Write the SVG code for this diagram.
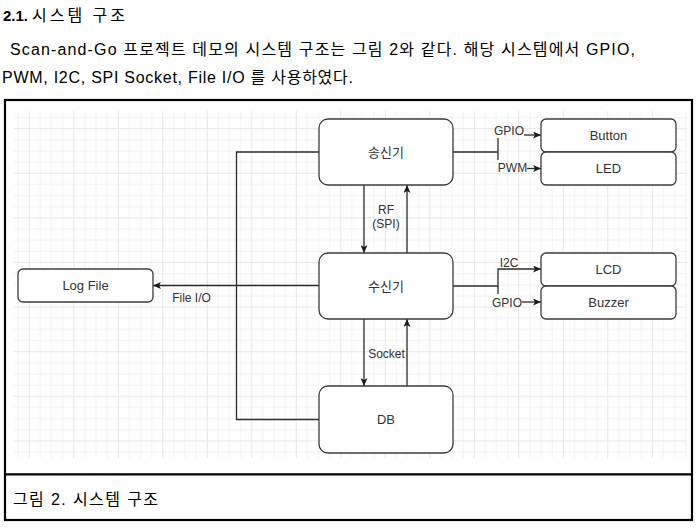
<svg xmlns="http://www.w3.org/2000/svg" width="698" height="530" viewBox="0 0 698 530">
<style>
.hdr{font-family:'Liberation Sans','Noto Sans CJK KR',sans-serif;fill:#000}
.node rect{fill:#fff;stroke:#3c3c3c;stroke-width:1.3}
.node text{font-family:'Liberation Sans','Noto Sans CJK KR',sans-serif;font-size:13px;fill:#333;text-anchor:middle;dominant-baseline:central}
.edge{fill:none;stroke:#2b2b2b;stroke-width:1.3}
.lbl{font-family:'Liberation Sans','Noto Sans CJK KR',sans-serif;font-size:12px;fill:#333}
</style>
<defs>
<marker id="arr" viewBox="0 0 8 7" refX="8" refY="3.5" markerWidth="8" markerHeight="7" orient="auto" markerUnits="userSpaceOnUse">
<path d="M0,0 L8,3.5 L0,7 L2,3.5 Z" fill="#1a1a1a"/>
</marker>
<pattern id="grid" patternUnits="userSpaceOnUse" x="28.8" y="128.2" width="44.5" height="44.6">
<rect x="11.1" y="0" width="1" height="44.6" fill="#f2f2f2"/>
<rect x="22.2" y="0" width="1" height="44.6" fill="#f2f2f2"/>
<rect x="33.4" y="0" width="1" height="44.6" fill="#f2f2f2"/>
<rect x="0" y="11.15" width="44.5" height="1" fill="#f2f2f2"/>
<rect x="0" y="22.3" width="44.5" height="1" fill="#f2f2f2"/>
<rect x="0" y="33.45" width="44.5" height="1" fill="#f2f2f2"/>
<rect x="0" y="0" width="1" height="44.6" fill="#e6e6e6"/>
<rect x="0" y="0" width="44.5" height="1" fill="#e6e6e6"/>
</pattern>
</defs>
<rect x="0" y="0" width="698" height="530" fill="#fff"/>
<g id="header">
<text class="hdr" x="3" y="20.5" font-size="15" font-weight="bold">2.1.</text>
<text class="hdr" x="32" y="20.5" font-size="16" textLength="93" lengthAdjust="spacing">시스템 구조</text>
<text class="hdr" x="10" y="55" font-size="16" textLength="625" lengthAdjust="spacing">Scan-and-Go 프로젝트 데모의 시스템 구조는 그림 2와 같다. 해당 시스템에서 GPIO,</text>
<text class="hdr" x="2" y="83" font-size="16" textLength="351" lengthAdjust="spacing">PWM, I2C, SPI Socket, File I/O 를 사용하였다.</text>
</g>
<g id="frame">
<rect x="14" y="111" width="673" height="347" fill="url(#grid)"/>
<rect x="5" y="100" width="687" height="420" fill="none" stroke="#000" stroke-width="2.2"/>
<line x1="5" y1="474.3" x2="692" y2="474.3" stroke="#000" stroke-width="2.2"/>
<text class="hdr" x="13" y="505" font-size="16" textLength="145" lengthAdjust="spacing">그림 2. 시스템 구조</text>
</g>
<g id="connectors">
<path class="edge" d="M319,152 H236.5 V419.5 H319"/>
<path class="edge" d="M319,285.5 H153" marker-end="url(#arr)"/>
<path class="edge" d="M364,185 V253" marker-end="url(#arr)"/>
<path class="edge" d="M407,253 V185" marker-end="url(#arr)"/>
<text class="lbl" x="386" y="214" text-anchor="middle">RF</text>
<text class="lbl" x="386" y="228" text-anchor="middle">(SPI)</text>
<path class="edge" d="M364,319 V386" marker-end="url(#arr)"/>
<path class="edge" d="M407,386 V319" marker-end="url(#arr)"/>
<text class="lbl" x="386.5" y="357.5" text-anchor="middle">Socket</text>
<path class="edge" d="M453,152 H498 M498,152 V138 M498,152 V160"/>
<path class="edge" d="M524,135 H541" marker-end="url(#arr)"/>
<path class="edge" d="M527,168.5 H541" marker-end="url(#arr)"/>
<text class="lbl" x="509" y="135" text-anchor="middle">GPIO</text>
<text class="lbl" x="512.5" y="172" text-anchor="middle">PWM</text>
<path class="edge" d="M453,286 H498 V269 H541" marker-end="url(#arr)"/>
<path class="edge" d="M498,286 V294"/>
<path class="edge" d="M522,302 H541" marker-end="url(#arr)"/>
<text class="lbl" x="509" y="267" text-anchor="middle">I2C</text>
<text class="lbl" x="507" y="307" text-anchor="middle">GPIO</text>
<text class="lbl" x="191.5" y="302" text-anchor="middle">File I/O</text>
</g>
<g id="tx" class="node"><rect x="319" y="119" width="134" height="66" rx="9"/><text x="386" y="152">송신기</text></g>
<g id="rx" class="node"><rect x="319" y="253" width="134" height="66" rx="9"/><text x="386" y="286">수신기</text></g>
<g id="db" class="node"><rect x="319" y="386" width="134" height="67" rx="9"/><text x="386" y="419.5">DB</text></g>
<g id="button" class="node"><rect x="541" y="119" width="135" height="33" rx="5"/><text x="608.5" y="135.5">Button</text></g>
<g id="led" class="node"><rect x="541" y="152" width="135" height="33" rx="5"/><text x="608.5" y="168.5">LED</text></g>
<g id="lcd" class="node"><rect x="541" y="253" width="135" height="33" rx="5"/><text x="608.5" y="269.5">LCD</text></g>
<g id="buzzer" class="node"><rect x="541" y="286" width="135" height="33" rx="5"/><text x="608.5" y="302.5">Buzzer</text></g>
<g id="logfile" class="node"><rect x="18" y="269" width="135" height="33" rx="5"/><text x="85.5" y="285.5">Log File</text></g>
</svg>
